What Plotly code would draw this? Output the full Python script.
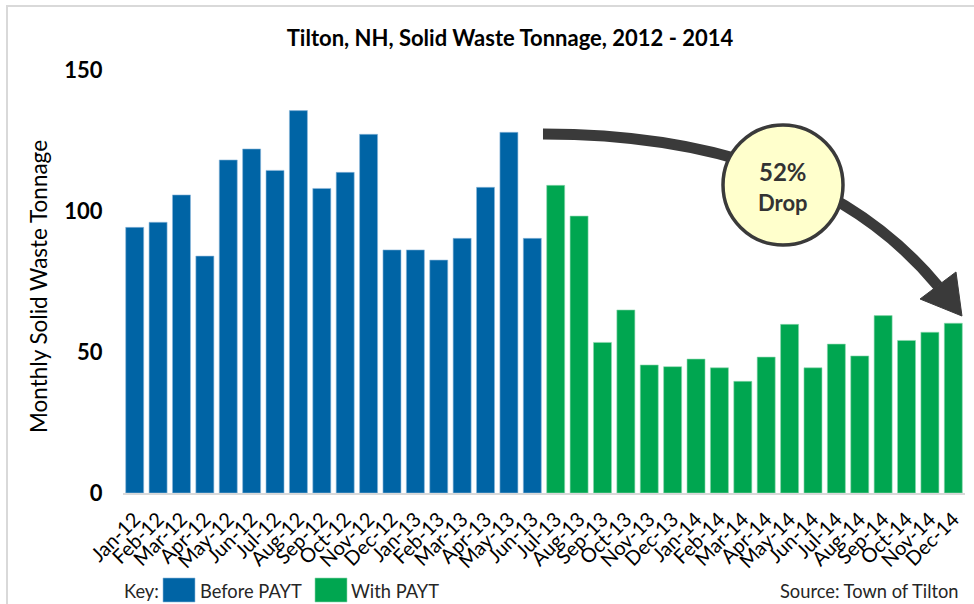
import plotly.graph_objects as go

months = ["Jan-12","Feb-12","Mar-12","Apr-12","May-12","Jun-12","Jul-12","Aug-12","Sep-12","Oct-12","Nov-12","Dec-12",
          "Jan-13","Feb-13","Mar-13","Apr-13","May-13","Jun-13","Jul-13","Aug-13","Sep-13","Oct-13","Nov-13","Dec-13",
          "Jan-14","Feb-14","Mar-14","Apr-14","May-14","Jun-14","Jul-14","Aug-14","Sep-14","Oct-14","Nov-14","Dec-14"]
before_months = months[:18]
before_values = [94.2, 96.0, 105.7, 84.0, 118.1, 122.0, 114.4, 135.6, 108.0, 113.7, 127.2, 86.2,
                 86.2, 82.6, 90.3, 108.4, 127.9, 90.3]
with_months = months[18:]
with_values = [109.1, 98.2, 53.4, 64.9, 45.4, 44.8, 47.5, 44.4, 39.6, 48.2, 59.8, 44.4,
               52.8, 48.6, 62.9, 54.1, 57.0, 60.2]
y_ticks = [0, 50, 100, 150]

FONT = "Lato"
W, H = 974, 604
L, R, T, B = 123, 9, 70, 111
PW, PH = W - L - R, H - T - B

def px(x):
    return (x - L) / PW

def py(y):
    return (H - B - y) / PH

BLUE = "#0064A5"
GREEN = "#00A650"
DARK = "#3a3a3a"

fig = go.Figure()
fig.add_trace(go.Bar(x=before_months, y=before_values, name="Before PAYT",
                     marker=dict(color=BLUE, line=dict(color="#8fb8dc", width=0.6))))
fig.add_trace(go.Bar(x=with_months, y=with_values, name="With PAYT",
                     marker=dict(color=GREEN, line=dict(color="#8fd8b0", width=0.6))))

shapes = []
# outer frame
shapes.append(dict(type="rect", xref="paper", yref="paper",
                   x0=px(7), x1=px(990), y0=py(6), y1=py(620),
                   line=dict(color="#d9d9d9", width=2), fillcolor="rgba(0,0,0,0)", layer="below"))
# arrow shaft (quadratic curve)
p0, c, p2 = (543, 134), (812, 134), (938, 286)
path = "M {:.4f},{:.4f} Q {:.4f},{:.4f} {:.4f},{:.4f}".format(px(p0[0]), py(p0[1]), px(c[0]), py(c[1]), px(p2[0]), py(p2[1]))
shapes.append(dict(type="path", xref="paper", yref="paper", path=path,
                   line=dict(color=DARK, width=11)))
# arrow head
tri = [(962, 316), (920, 299), (956, 272)]
tpath = "M {:.4f},{:.4f} L {:.4f},{:.4f} L {:.4f},{:.4f} Z".format(px(tri[0][0]), py(tri[0][1]), px(tri[1][0]), py(tri[1][1]), px(tri[2][0]), py(tri[2][1]))
shapes.append(dict(type="path", xref="paper", yref="paper", path=tpath,
                   line=dict(color=DARK, width=1), fillcolor=DARK))
# circle
cx, cy, r = 783, 185, 60
shapes.append(dict(type="circle", xref="paper", yref="paper",
                   x0=px(cx - r), x1=px(cx + r), y0=py(cy + r), y1=py(cy - r),
                   line=dict(color=DARK, width=3.5), fillcolor="#FFFFCC"))
# key boxes
shapes.append(dict(type="rect", xref="paper", yref="paper",
                   x0=px(163), x1=px(195), y0=py(602), y1=py(578),
                   line=dict(color="#8fb8dc", width=0.6), fillcolor=BLUE))
shapes.append(dict(type="rect", xref="paper", yref="paper",
                   x0=px(315), x1=px(347), y0=py(602), y1=py(578),
                   line=dict(color="#8fd8b0", width=0.6), fillcolor=GREEN))

def ann(text, x, y, size, xanchor="center", color="#262626", angle=0, bold=False):
    return dict(text=text, x=px(x), y=py(y), xref="paper", yref="paper", showarrow=False,
                xanchor=xanchor, yanchor="middle", textangle=angle,
                font=dict(family=FONT, size=size, color=color, weight="bold" if bold else "normal"))

annotations = [
    ann("52%", 783, 171, 24, color="#333333", bold=True),
    ann("Drop", 783, 202, 22, color="#333333", bold=True),
    ann("Monthly Solid Waste Tonnage", 38, 287, 22.5, color="#000000", angle=-90),
    ann("Key:", 122, 591, 18.3, xanchor="left"),
    ann("Before PAYT", 198, 591, 18.3, xanchor="left"),
    ann("With PAYT", 349, 591, 18.3, xanchor="left"),
    ann("Source: Town of Tilton", 961, 591, 18.3, xanchor="right"),
]

fig.update_layout(
    width=W, height=H, autosize=False,
    margin=dict(l=L, r=R, t=T, b=B),
    paper_bgcolor="white", plot_bgcolor="white",
    barmode="relative", bargap=0.23,
    showlegend=False,
    title=dict(text="Tilton, NH, Solid Waste Tonnage, 2012 - 2014", x=px(510), xref="paper",
               xanchor="center", y=1 - 38 / H, yanchor="middle",
               font=dict(family=FONT, size=22, color="#000000", weight="bold")),
    xaxis=dict(type="category", categoryorder="array", categoryarray=months,
               tickmode="array", tickvals=months, ticktext=months,
               tickangle=-45, tickfont=dict(family=FONT, size=20, color="#000000"),
               showline=True, linecolor="#d9d9d9", linewidth=1.5, showgrid=False,
               ticks="outside", ticklen=5, tickcolor="rgba(0,0,0,0)", range=[-0.5, 35.5]),
    yaxis=dict(range=[0, 150], tickvals=y_ticks, showgrid=False, zeroline=False, showline=False,
               tickfont=dict(family=FONT, size=22, color="#000000", weight="bold"),
               ticks="outside", ticklen=15, tickcolor="rgba(0,0,0,0)"),
    shapes=shapes, annotations=annotations,
)

fig.write_html("out.html", config={"displayModeBar": False},
               post_script="document.body.style.margin='0';")
